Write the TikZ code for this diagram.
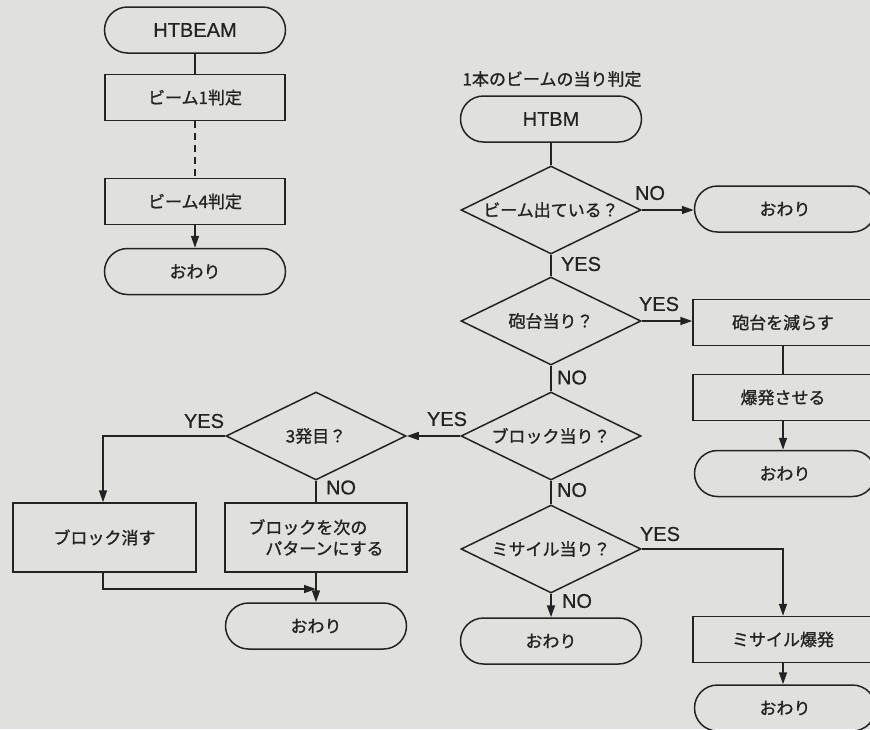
\documentclass[tikz,border=0pt]{standalone}
\usepackage{fontspec}
\setmainfont{Liberation Sans}
\newfontfamily\jp[FakeBold=1.2]{Noto Sans CJK JP}
\newfontfamily\lat[FakeBold=0.6]{Liberation Sans}
\usetikzlibrary{shapes.geometric,arrows.meta}
\definecolor{paper}{RGB}{224,224,221}
\definecolor{ink}{RGB}{35,35,35}
\begin{document}
\begin{tikzpicture}[x=1pt,y=-1pt,line width=1.5pt,
  jpfont/.style={font=\jp\fontsize{17}{21}\selectfont},
  latin/.style={font=\lat\fontsize{20}{22}\selectfont},
  term/.style={draw=ink,text=ink,rectangle,rounded corners=23pt,minimum width=181pt,minimum height=46pt,inner sep=0pt,jpfont},
  proc/.style={draw=ink,text=ink,rectangle,minimum width=180pt,minimum height=46pt,inner sep=0pt,jpfont},
  dec/.style={draw=ink,text=ink,diamond,aspect=2.05,minimum width=180pt,minimum height=88pt,inner sep=0pt,jpfont},
  lbl/.style={text=ink,inner sep=0pt,font=\lat\fontsize{20}{22}\selectfont},
  conn/.style={draw=ink,line width=1.5pt},
  arr/.style={conn,-{Triangle[length=12pt,width=8pt]}}]
\fill[paper] (0,0) rectangle (870,729);
\useasboundingbox (0,0) rectangle (870,729);
\clip (0,0) rectangle (870,729);

% left column
\node[term,latin] (htbeam) at (195,30) {HTBEAM};
\node[proc] (b1) at (195,97.5) {ビーム1判定};
\node[proc] (b4) at (195,201.5) {ビーム4判定};
\node[term] (e1) at (195,271.5) {おわり};

% main column
\node[text=ink,inner sep=0pt,jpfont] (title) at (552,79) {1本のビームの当り判定};
\node[term,latin] (htbm) at (551,119) {HTBM};
\node[dec] (d1) at (551,210) {ビーム出ている？};
\node[term] (e2) at (785,209) {おわり};
\node[dec] (d2) at (551,321) {砲台当り？};
\node[proc] (hb) at (783,322.5) {砲台を減らす};
\node[proc] (bk) at (783,397.5) {爆発させる};
\node[term] (e3) at (785,473.5) {おわり};
\node[dec] (d3) at (551,436) {ブロック当り？};
\node[dec] (d5) at (551,549) {ミサイル当り？};
\node[term] (e5) at (551,641) {おわり};
\node[proc] (ms) at (783,639.5) {ミサイル爆発};
\node[term] (e6) at (785,708) {おわり};

% left lower part
\node[dec] (d4) at (316,436) {3発目？};
\node[proc,minimum width=183pt,minimum height=69pt] (kesu) at (104.5,537.5) {ブロック消す};
\node[proc,minimum width=182pt,minimum height=69pt,align=left] (pbox) at (316,537.5) {ブロックを次の\\\hspace*{1em}パターンにする};
\node[term] (e4) at (316,626) {おわり};
\coordinate (m) at (316,589);

% connectors
\draw[conn] (htbeam) -- (b1);
\draw[conn,dash pattern=on 7pt off 5pt] (b1) -- (b4);
\draw[arr] (b4) -- (e1);
\draw[conn] (htbm) -- (d1);
\draw[arr] (d1.east) -- (d1.east -| e2.west);
\draw[conn] (d1.south) -- (d2.north);
\draw[arr] (d2.east) -- (d2.east -| hb.west);
\draw[conn] (hb.south) -- (bk.north);
\draw[arr] (bk.south) -- (bk.south |- e3.north);
\draw[conn] (d2.south) -- (d3.north);
\draw[arr] (d3.west) -- (d4.east);
\draw[conn] (d3.south) -- (d5.north);
\draw[arr] (d5.south) -- (e5.north);
\draw[arr] (d5.east) -| (ms.north);
\draw[arr] (ms.south) -- (ms.south |- e6.north);
\draw[arr] (d4.west) -| ([xshift=-1.5pt]kesu.north);
\draw[conn] (d4.south) -- (pbox.north);
\draw[arr] ([xshift=-1.5pt]kesu.south) |- (m);
\draw[arr] (pbox.south) -- (e4.north);

% labels
\node[lbl] (l1) at (650,193) {NO};
\node[lbl] (l2) at (581,264) {YES};
\node[lbl] (l3) at (659,304) {YES};
\node[lbl] (l4) at (572,377.5) {NO};
\node[lbl] (l5) at (447,419) {YES};
\node[lbl] (l6) at (572,490) {NO};
\node[lbl] (l7) at (660,534) {YES};
\node[lbl] (l8) at (577,601) {NO};
\node[lbl] (l9) at (204,421) {YES};
\node[lbl] (l10) at (341,487.5) {NO};
\end{tikzpicture}
\end{document}
